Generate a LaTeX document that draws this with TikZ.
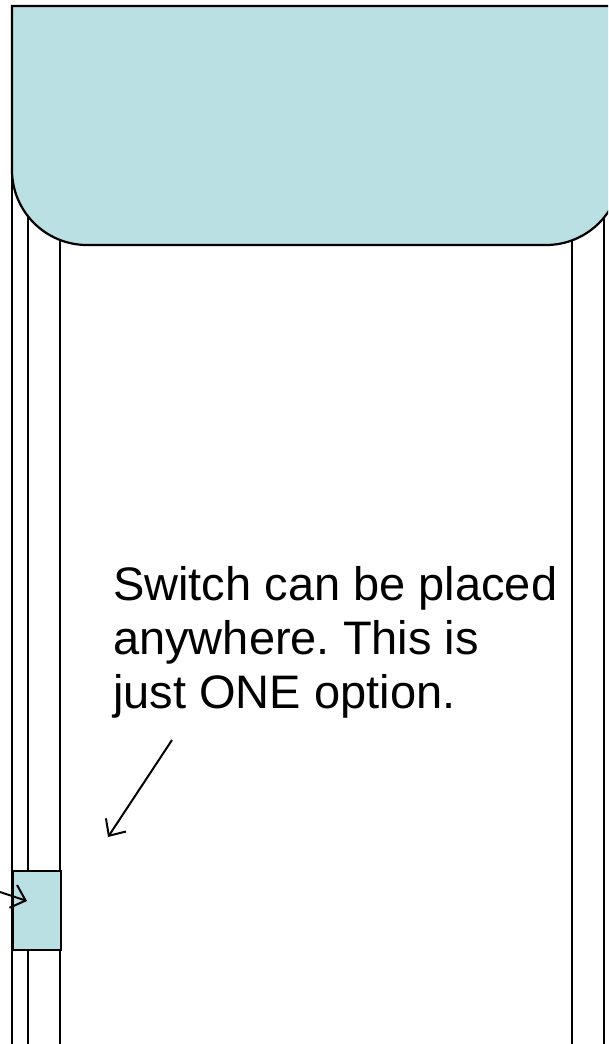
\documentclass[tikz,border=0pt]{standalone}
\usepackage{fontspec}
\setmainfont{Liberation Sans}
\usetikzlibrary{arrows.meta}
\definecolor{boxblue}{RGB}{187,224,227}
\frenchspacing
\tikzset{
  wire/.style={line width=2.2pt, black},
  panel/.style={fill=boxblue, draw=black, line width=2.2pt},
  pointer/.style={line width=2pt, -{Straight Barb[length=13pt,width=24pt,line width=2pt]}},
}
\begin{document}
\begin{tikzpicture}[x=1pt,y=-1pt]
\useasboundingbox (0,0) rectangle (608,1044);
\clip (0,0) rectangle (608,1044);
% vertical wires
\draw[wire] (12,160) -- (12,1044);
\draw[wire] (28,200) -- (28,1044);
\draw[wire] (60,200) -- (60,1044);
\draw[wire] (572,200) -- (572,1044);
\draw[wire] (604,150) -- (604,1044);
% top panel
\draw[panel] (12,6) -- (621,6) -- (621,170) arc[start angle=0,end angle=90,radius=75] -- (87,245) arc[start angle=90,end angle=180,radius=75] -- cycle;
% switch box
\node[panel, minimum width=48pt, minimum height=79pt, inner sep=0pt, anchor=north west] (sw) at (12,870) {};
% label
\node[anchor=north west, align=left, inner sep=0pt, font=\fontsize{47}{54}\selectfont] (lbl) at (113,566) {Switch can be placed\\anywhere. This is\\just ONE option.};
\coordinate (a1) at (172,740);
\coordinate (a2) at (108,837);
\draw[pointer] (a1) -- (a2);
\coordinate (b1) at (0,892);
\coordinate (b2) at (27,901);
\draw[pointer] (b1) -- (b2);
\end{tikzpicture}
\end{document}
